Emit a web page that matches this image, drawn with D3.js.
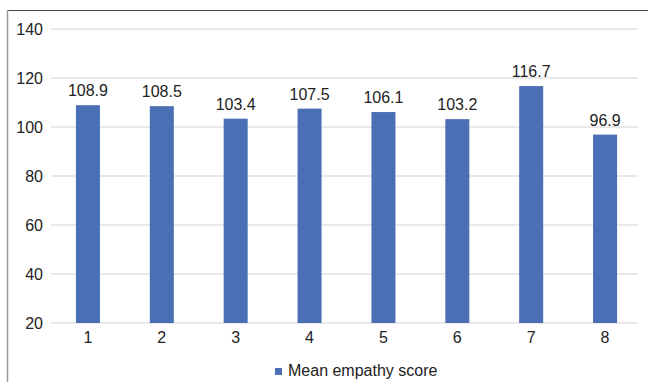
<!DOCTYPE html>
<html>
<head>
<meta charset="utf-8">
<script src="https://cdn.jsdelivr.net/npm/d3@7"></script>
<style>
  body { margin: 0; background: white; }
  svg { display: block; font-family: "Liberation Sans", Arial, sans-serif; }
</style>
</head>
<body>
<div id="chart"></div>
<script>
// Dades
const groups = ["1", "2", "3", "4", "5", "6", "7", "8"];
const meanScores = [108.9, 108.5, 103.4, 107.5, 106.1, 103.2, 116.7, 96.9];
const yTicks = [20, 40, 60, 80, 100, 120, 140];
const seriesName = "Mean empathy score";

const W = 648, H = 382;
const margin = { top: 29, right: 6, bottom: 59, left: 51 };
const width = W - margin.left - margin.right;
const height = H - margin.top - margin.bottom;
const fontSize = "16px";

const svg = d3.select("#chart")
    .append("svg")
        .attr("width", W)
        .attr("height", H);

// Marc
svg.append("line")
    .attr("x1", 7).attr("x2", W)
    .attr("y1", 10.5).attr("y2", 10.5)
    .attr("stroke", "#444").attr("stroke-width", 1.2);
svg.append("line")
    .attr("x1", 7.5).attr("x2", 7.5)
    .attr("y1", 10).attr("y2", H)
    .attr("stroke", "#999").attr("stroke-width", 1.5);

const g = svg.append("g")
    .attr("transform", `translate(${margin.left}, ${margin.top})`);

const x = d3.scaleBand()
    .domain(groups)
    .range([0, width])
    .paddingInner(0.675)
    .paddingOuter(0.3375);

const y = d3.scaleLinear()
    .domain([20, 140])
    .range([height, 0]);

// Línies de graella
g.selectAll(".grid")
    .data(yTicks)
    .enter()
    .append("line")
        .attr("x1", 0)
        .attr("x2", width - 4)
        .attr("y1", d => y(d))
        .attr("y2", d => y(d))
        .attr("stroke", "#e2e2e2")
        .attr("stroke-width", 1.3);

// Eix Y
const yAxis = g.append("g")
    .call(d3.axisLeft(y).tickValues(yTicks).tickSize(0).tickPadding(8));
yAxis.select(".domain").remove();
yAxis.selectAll("text")
    .style("font-size", fontSize)
    .style("fill", "#222")
    .style("font-family", "'Liberation Sans', Arial, sans-serif");

// Eix X
const xAxis = g.append("g")
    .attr("transform", `translate(0, ${height})`)
    .call(d3.axisBottom(x).tickSize(0).tickPadding(8.5));
xAxis.select(".domain").remove();
xAxis.selectAll("text")
    .style("font-size", fontSize)
    .style("fill", "#222")
    .style("font-family", "'Liberation Sans', Arial, sans-serif");

const data = groups.map((k, i) => ({ group: k, value: meanScores[i] }));

// Barres
g.selectAll(".bar")
    .data(data)
    .enter()
    .append("rect")
        .attr("class", "bar")
        .attr("x", d => x(d.group))
        .attr("y", d => y(d.value))
        .attr("width", x.bandwidth())
        .attr("height", d => y(20) - y(d.value))
        .attr("fill", "#4a6fb5");

// Etiquetes de valor
g.selectAll(".label")
    .data(data)
    .enter()
    .append("text")
        .attr("x", d => x(d.group) + x.bandwidth() / 2)
        .attr("y", d => y(d.value) - 9)
        .attr("text-anchor", "middle")
        .style("font-size", fontSize)
        .style("fill", "#222")
        .text(d => d.value.toFixed(1));

// Llegenda
const legend = svg.append("g")
    .attr("transform", "translate(275, 368)");
legend.append("rect")
    .attr("width", 7).attr("height", 7)
    .attr("fill", "#4a6fb5");
legend.append("text")
    .attr("x", 13)
    .attr("y", 8)
    .style("font-size", fontSize)
    .style("fill", "#222")
    .text(seriesName);
</script>
</body>
</html>
